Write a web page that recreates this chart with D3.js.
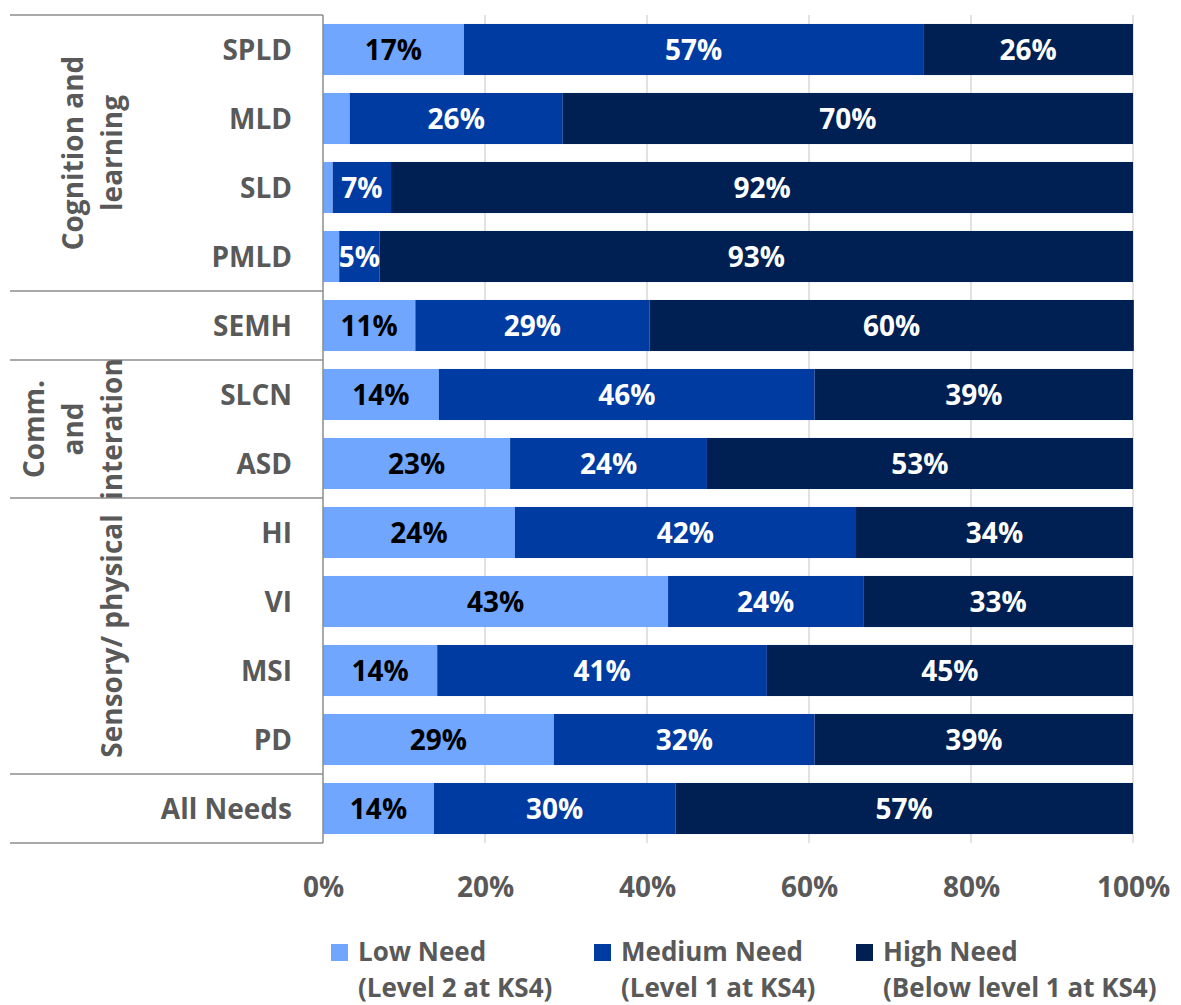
<!DOCTYPE html>
<html>
<head>
<meta charset="utf-8">
<script src="https://cdn.jsdelivr.net/npm/d3@7"></script>
<style>
  html, body { margin: 0; padding: 0; background: #ffffff; }
  svg { display: block; font-family: "Open Sans", "Noto Sans", sans-serif; font-weight: 700; }
</style>
</head>
<body>
<svg id="chart" width="1181" height="1005"></svg>
<script>
// Categories of need, top to bottom
const categories = ["SPLD", "MLD", "SLD", "PMLD", "SEMH", "SLCN", "ASD", "HI", "VI", "MSI", "PD", "All Needs"];

// Share of pupils (%) in each need band
const lowNeed    = [17.4,  3.3,  1.2,  2.0, 11.4, 14.3, 23.1, 23.7, 42.6, 14.1, 28.5, 13.7];
const mediumNeed = [56.7, 26.3,  7.2,  5.0, 28.9, 46.4, 24.3, 42.1, 24.1, 40.7, 32.2, 29.8];
const highNeed   = [25.9, 70.4, 91.6, 93.0, 59.8, 39.3, 52.6, 34.2, 33.3, 45.2, 39.3, 56.5];

// Series names shown in the legend (two lines each)
const seriesNames = [
  ["Low Need", "(Level 2 at KS4)"],
  ["Medium Need", "(Level 1 at KS4)"],
  ["High Need", "(Below level 1 at KS4)"]
];

// Axis tick values (%)
const xTicks = [0, 20, 40, 60, 80, 100];

// Groupings of the categories, with the rotated label lines
const groups = [
  { lines: ["Cognition and", "learning"], first: 0, last: 3 },
  { lines: [], first: 4, last: 4 },
  { lines: ["Comm.", "and", "interation"], first: 5, last: 6 },
  { lines: ["Sensory/ physical"], first: 7, last: 10 },
  { lines: [], first: 11, last: 11 }
];

const colors = ["#71a6ff", "#003ba2", "#001f52"];
const labelColors = ["#000000", "#ffffff", "#ffffff"];
const textGray = "#595959";
const fontSize = 28;

const svg = d3.select("#chart");
const plotLeft = 323, plotRight = 1133, plotTop = 15, plotBottom = 843;

const x = d3.scaleLinear().domain([0, 100]).range([plotLeft, plotRight]);
const y = d3.scaleBand().domain(categories).range([plotTop, plotBottom])
  .paddingInner(0.26).paddingOuter(0.13);

// Vertical gridlines
svg.append("g").selectAll("line").data(xTicks.filter(d => d > 0)).join("line")
  .attr("x1", d => x(d)).attr("x2", d => x(d))
  .attr("y1", plotTop).attr("y2", plotBottom)
  .attr("stroke", "#d9d9d9").attr("stroke-width", 1.5);

// Stacked bars
const rows = categories.map((c, i) => ({ cat: c, vals: [lowNeed[i], mediumNeed[i], highNeed[i]] }));
const stackData = rows.map(r => {
  let acc = 0;
  return r.vals.map((v, k) => { const s = { cat: r.cat, k, v, x0: acc, x1: acc + v }; acc += v; return s; });
}).flat();

svg.append("g").selectAll("rect").data(stackData).join("rect")
  .attr("x", d => x(d.x0))
  .attr("width", d => x(d.x1) - x(d.x0))
  .attr("y", d => y(d.cat))
  .attr("height", y.bandwidth())
  .attr("fill", d => colors[d.k]);

// Value labels
svg.append("g").selectAll("text").data(stackData.filter(d => d.v >= 4.5)).join("text")
  .attr("x", d => (x(d.x0) + x(d.x1)) / 2)
  .attr("y", d => y(d.cat) + y.bandwidth() / 2)
  .attr("dy", "0.36em")
  .attr("text-anchor", "middle")
  .attr("font-size", fontSize)
  .attr("fill", d => labelColors[d.k])
  .text(d => Math.round(d.v) + "%");

// Left axis line
svg.append("line")
  .attr("x1", plotLeft).attr("x2", plotLeft)
  .attr("y1", plotTop).attr("y2", plotBottom)
  .attr("stroke", "#8c8c8c").attr("stroke-width", 1.5);

// Group separator lines
const boundaries = [0].concat(groups.map(g => g.last + 1));
svg.append("g").selectAll("line").data(boundaries).join("line")
  .attr("x1", 10).attr("x2", plotLeft)
  .attr("y1", d => plotTop + d * y.step()).attr("y2", d => plotTop + d * y.step())
  .attr("stroke", "#8c8c8c").attr("stroke-width", 1.5);

// Category labels
svg.append("g").selectAll("text").data(categories).join("text")
  .attr("x", 292)
  .attr("y", d => y(d) + y.bandwidth() / 2)
  .attr("dy", "0.36em")
  .attr("text-anchor", "end")
  .attr("font-size", fontSize)
  .attr("fill", textGray)
  .text(d => d);

// Rotated group labels
const lineGap = 39, lastBaseline = 122;
groups.filter(g => g.lines.length).forEach(g => {
  const cy = plotTop + ((g.first + g.last + 1) / 2) * y.step();
  const t = svg.append("text")
    .attr("transform", `translate(0,${cy}) rotate(-90)`)
    .attr("text-anchor", "middle")
    .attr("font-size", fontSize)
    .attr("fill", textGray);
  const n = g.lines.length;
  g.lines.forEach((ln, i) => {
    t.append("tspan").attr("x", 0).attr("y", lastBaseline - (n - 1 - i) * lineGap).text(ln);
  });
});

// Bottom axis tick labels
const xAxis = d3.axisBottom(x).tickValues(xTicks).tickFormat(d => d + "%").tickSize(0).tickPadding(0);
const ax = svg.append("g").attr("transform", `translate(0,${plotBottom})`).call(xAxis);
ax.select(".domain").remove();
ax.selectAll("text")
  .attr("y", 44).attr("dy", "0.36em")
  .attr("font-size", fontSize).attr("font-family", "Open Sans, sans-serif").attr("font-weight", 700)
  .attr("fill", textGray);

// Legend
const legendX = [331, 594, 856];
const legend = svg.append("g").selectAll("g").data(seriesNames).join("g")
  .attr("transform", (d, i) => `translate(${legendX[i]},0)`);
legend.append("rect")
  .attr("x", 0).attr("y", 944).attr("width", 17).attr("height", 17)
  .attr("fill", (d, i) => colors[i]);
legend.append("text")
  .attr("font-size", 26).attr("fill", textGray)
  .selectAll("tspan").data(d => d).join("tspan")
  .attr("x", 27).attr("y", (d, j) => 961 + j * 36)
  .text(d => d);
</script>
</body>
</html>
